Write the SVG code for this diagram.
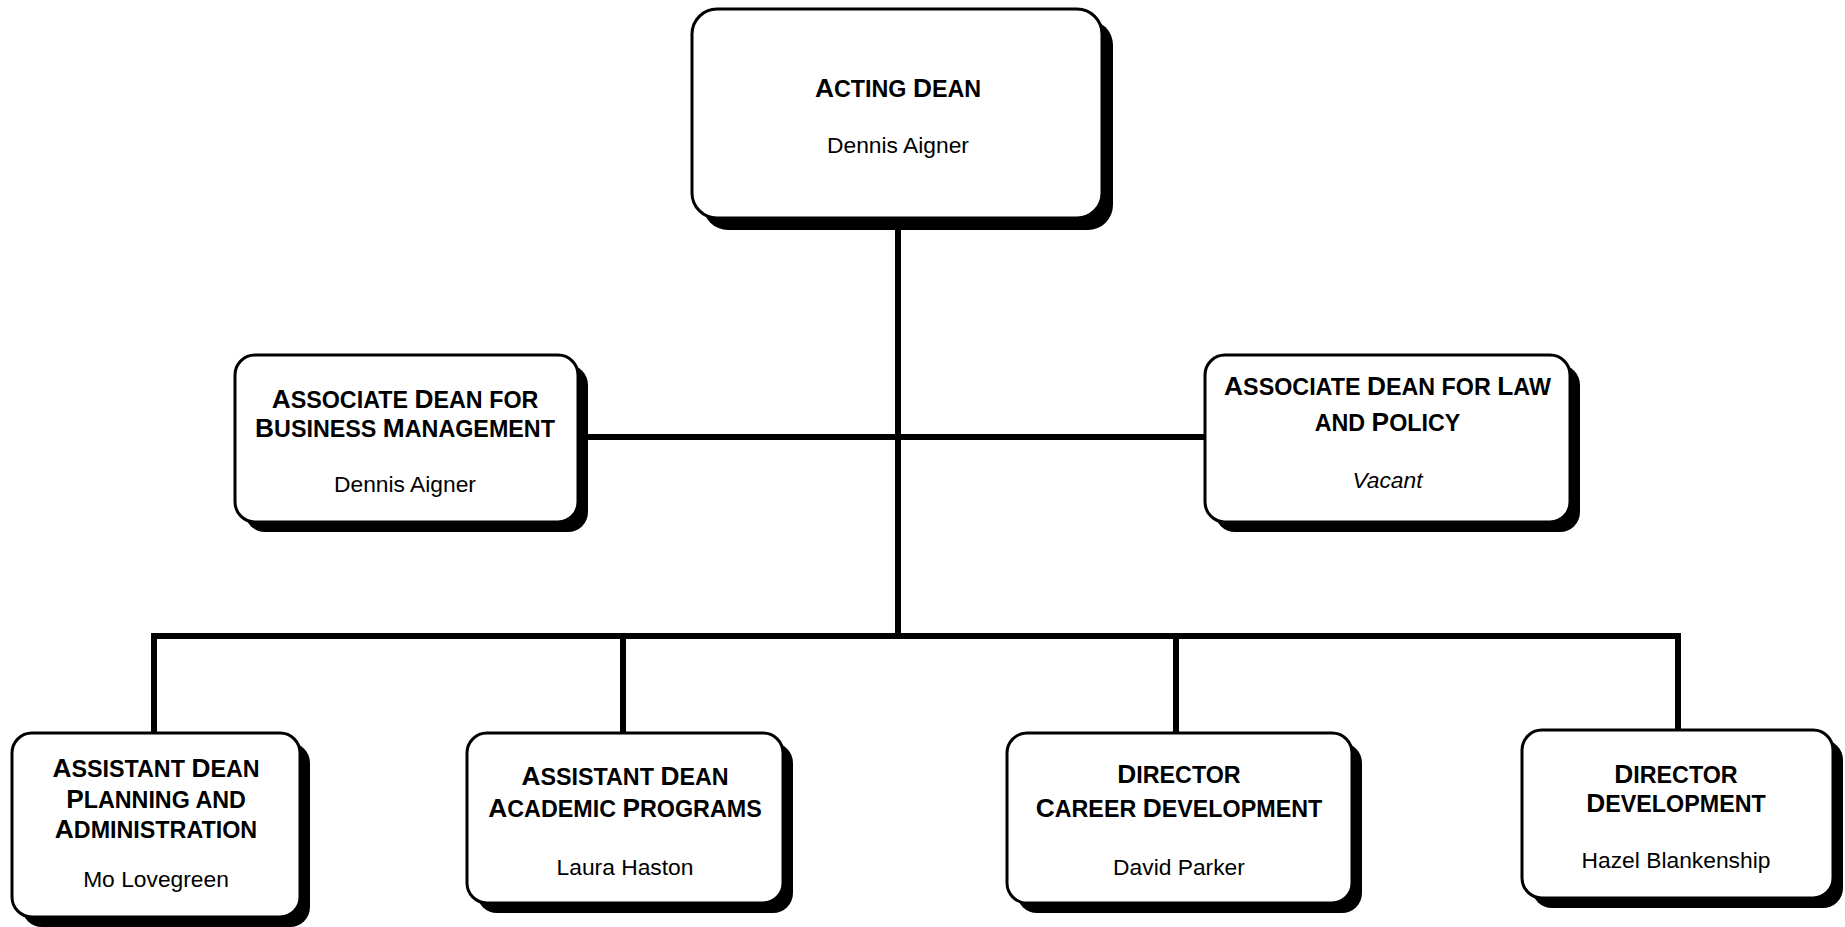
<svg xmlns="http://www.w3.org/2000/svg" width="1845" height="927" viewBox="0 0 1845 927">
<style>
.box{fill:#fff;stroke:#000;stroke-width:3}
.sh{fill:#000}
.h{font-family:"Liberation Sans",Arial,sans-serif;font-weight:bold;font-size:23.3px;text-anchor:middle;fill:#000}
.L{font-size:26.3px}
.n{font-family:"Liberation Sans",Arial,sans-serif;font-size:22.8px;text-anchor:middle;fill:#000}
.i{font-style:italic}
.c{fill:none;stroke:#000;stroke-width:6;stroke-linejoin:miter;stroke-linecap:butt}
</style>
<rect width="1845" height="927" fill="#fff"/>
<g id="connectors">
<path class="c" d="M898,218 V636"/>
<path class="c" d="M578,437 H1205"/>
<path class="c" d="M154,733 V636 H1678 V730"/>
<path class="c" d="M623,636 V733"/>
<path class="c" d="M1176,636 V733"/>
</g>
<g id="acting-dean">
<rect class="sh" x="703" y="20" width="410" height="210" rx="25"/>
<rect class="box" x="692" y="9" width="410" height="209" rx="25"/>
<text class="h" x="898" y="96.5"><tspan class="L">A</tspan>CTING <tspan class="L">D</tspan>EAN</text>
<text class="n" x="898" y="153">Dennis Aigner</text>
</g>
<g id="assoc-business">
<rect class="sh" x="245" y="365" width="343" height="167" rx="20"/>
<rect class="box" x="235" y="355" width="343" height="167" rx="20"/>
<text class="h" x="405" y="408"><tspan class="L">A</tspan>SSOCIATE <tspan class="L">D</tspan>EAN FOR</text>
<text class="h" x="405" y="437"><tspan class="L">B</tspan>USINESS <tspan class="L">M</tspan>ANAGEMENT</text>
<text class="n" x="405" y="492">Dennis Aigner</text>
</g>
<g id="assoc-law">
<rect class="sh" x="1215" y="365" width="365" height="167" rx="20"/>
<rect class="box" x="1205" y="355" width="365" height="167" rx="20"/>
<text class="h" x="1387.5" y="395"><tspan class="L">A</tspan>SSOCIATE <tspan class="L">D</tspan>EAN FOR <tspan class="L">L</tspan>AW</text>
<text class="h" x="1387.5" y="431"><tspan>AND </tspan><tspan class="L">P</tspan>OLICY</text>
<text class="n i" x="1387.5" y="488">Vacant</text>
</g>
<g id="asst-planning">
<rect class="sh" x="22" y="743" width="288" height="184" rx="20"/>
<rect class="box" x="12" y="733" width="288" height="184" rx="20"/>
<text class="h" x="156" y="777"><tspan class="L">A</tspan>SSISTANT <tspan class="L">D</tspan>EAN</text>
<text class="h" x="156" y="808"><tspan class="L">P</tspan>LANNING AND</text>
<text class="h" x="156" y="838"><tspan class="L">A</tspan>DMINISTRATION</text>
<text class="n" x="156" y="887">Mo Lovegreen</text>
</g>
<g id="asst-academic">
<rect class="sh" x="477" y="743" width="316" height="170" rx="20"/>
<rect class="box" x="467" y="733" width="316" height="170" rx="20"/>
<text class="h" x="625" y="785"><tspan class="L">A</tspan>SSISTANT <tspan class="L">D</tspan>EAN</text>
<text class="h" x="625" y="817"><tspan class="L">A</tspan>CADEMIC <tspan class="L">P</tspan>ROGRAMS</text>
<text class="n" x="625" y="875">Laura Haston</text>
</g>
<g id="dir-career">
<rect class="sh" x="1017" y="743" width="345" height="170" rx="20"/>
<rect class="box" x="1007" y="733" width="345" height="170" rx="20"/>
<text class="h" x="1179" y="783"><tspan class="L">D</tspan>IRECTOR</text>
<text class="h" x="1179" y="817"><tspan class="L">C</tspan>AREER <tspan class="L">D</tspan>EVELOPMENT</text>
<text class="n" x="1179" y="875">David Parker</text>
</g>
<g id="dir-development">
<rect class="sh" x="1532" y="740" width="311" height="168" rx="20"/>
<rect class="box" x="1522" y="730" width="311" height="168" rx="20"/>
<text class="h" x="1676" y="783"><tspan class="L">D</tspan>IRECTOR</text>
<text class="h" x="1676" y="812"><tspan class="L">D</tspan>EVELOPMENT</text>
<text class="n" x="1676" y="868">Hazel Blankenship</text>
</g>
</svg>
